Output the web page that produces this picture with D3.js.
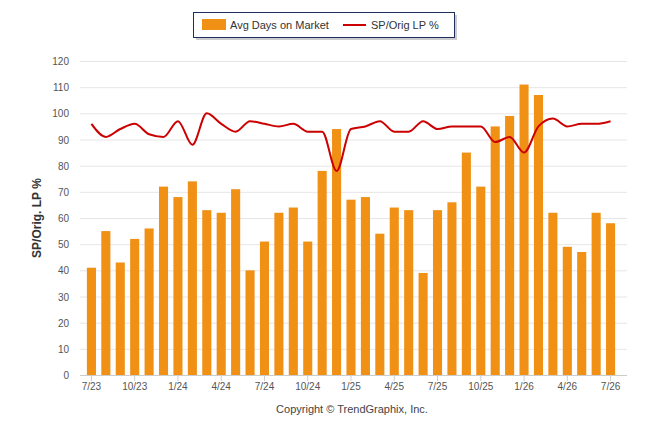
<!DOCTYPE html>
<html><head><meta charset="utf-8">
<script src="https://cdn.jsdelivr.net/npm/d3@7"></script>
<style>body{margin:0;background:#fff}svg{font-family:"Liberation Sans",Arial,sans-serif}</style>
</head><body>
<svg width="646" height="434"></svg>
<script>
const months = ["7/23","8/23","9/23","10/23","11/23","12/23","1/24","2/24","3/24","4/24","5/24","6/24","7/24","8/24","9/24","10/24","11/24","12/24","1/25","2/25","3/25","4/25","5/25","6/25","7/25","8/25","9/25","10/25","11/25","12/25","1/26","2/26","3/26","4/26","5/26","6/26","7/26"];
const daysOnMarket = [41,55,43,52,56,72,68,74,63,62,71,40,51,62,64,51,78,94,67,68,54,64,63,39,63,66,85,72,95,99,111,107,62,49,47,62,58];
const spOrigLp = [96,91,94,96,92,91,97,88,100,96,93,97,96,95,96,93,93,78,94,95,97,93,93,97,94,95,95,95,89,91,85,95,98,95,96,96,97];
const yTicks = [0,10,20,30,40,50,60,70,80,90,100,110,120];

const svg = d3.select("svg");
const pLeft = 84, pRight = 618, pTop = 61, pBottom = 375;

const x = d3.scaleBand().domain(months).range([pLeft, pRight]).paddingInner(0.37).paddingOuter(0.2);
const y = d3.scaleLinear().domain([0, 120]).range([pBottom, pTop]);

// grid
svg.append("g").selectAll("line").data(yTicks).join("line")
    .attr("x1", pLeft - 4).attr("x2", 627)
    .attr("y1", d => y(d) + 0.5).attr("y2", d => y(d) + 0.5)
    .style("stroke", "#e6e6e6");

svg.append("g").selectAll("text").data(yTicks).join("text")
    .attr("x", 69).attr("y", d => y(d) + 4)
    .attr("text-anchor", "end").attr("font-size", 10).attr("fill", "#555")
    .text(d => d);

// bars
svg.append("g").selectAll("rect").data(daysOnMarket).join("rect")
    .attr("x", (d, i) => x(months[i]))
    .attr("width", x.bandwidth())
    .attr("y", d => y(d))
    .attr("height", d => pBottom - y(d))
    .attr("fill", "#f09015");

// line
const line = d3.line()
    .x((d, i) => x(months[i]) + x.bandwidth() / 2)
    .y(d => y(d))
    .curve(d3.curveMonotoneX);
svg.append("path").datum(spOrigLp)
    .attr("d", line)
    .style("fill", "none").style("stroke", "#cc0000").style("stroke-width", 2);

// x axis
svg.append("line").attr("x1", pLeft - 4).attr("x2", 627).attr("y1", pBottom + 0.5).attr("y2", pBottom + 0.5)
    .style("stroke", "#ccc");
const labelled = months.filter((m, i) => i % 3 === 0);
svg.append("g").selectAll("line").data(labelled).join("line")
    .attr("x1", d => x(d) + x.bandwidth() / 2).attr("x2", d => x(d) + x.bandwidth() / 2)
    .attr("y1", pBottom).attr("y2", pBottom + 6).style("stroke", "#ccc");
svg.append("g").selectAll("text").data(labelled).join("text")
    .attr("x", d => x(d) + x.bandwidth() / 2).attr("y", pBottom + 15)
    .attr("text-anchor", "middle").attr("font-size", 10).attr("fill", "#555")
    .text(d => d);

// y title
svg.append("text").attr("transform", "translate(41,218) rotate(-90)")
    .attr("text-anchor", "middle").attr("font-size", 12).attr("font-weight", "bold").attr("fill", "#333")
    .text("SP/Orig. LP %");

// legend
svg.append("rect").attr("x", 196).attr("y", 15).attr("width", 261).attr("height", 25).attr("fill", "#999").attr("opacity", 0.5);
svg.append("rect").attr("x", 193.5).attr("y", 12.5).attr("width", 261).attr("height", 25).attr("fill", "#fff").attr("stroke", "#1f2f5f");
svg.append("rect").attr("x", 202).attr("y", 19).attr("width", 24).attr("height", 11).attr("fill", "#f09015");
svg.append("text").attr("x", 230).attr("y", 29).attr("font-size", 11).attr("fill", "#333").text("Avg Days on Market");
svg.append("line").attr("x1", 343).attr("x2", 366).attr("y1", 25).attr("y2", 25).style("stroke", "#cc0000").style("stroke-width", 2);
svg.append("text").attr("x", 371).attr("y", 29).attr("font-size", 11).attr("fill", "#333").text("SP/Orig LP %");

svg.append("text").attr("x", 352).attr("y", 413).attr("text-anchor", "middle").attr("font-size", 11).attr("fill", "#444")
    .text("Copyright © TrendGraphix, Inc.");
</script>
</body></html>
